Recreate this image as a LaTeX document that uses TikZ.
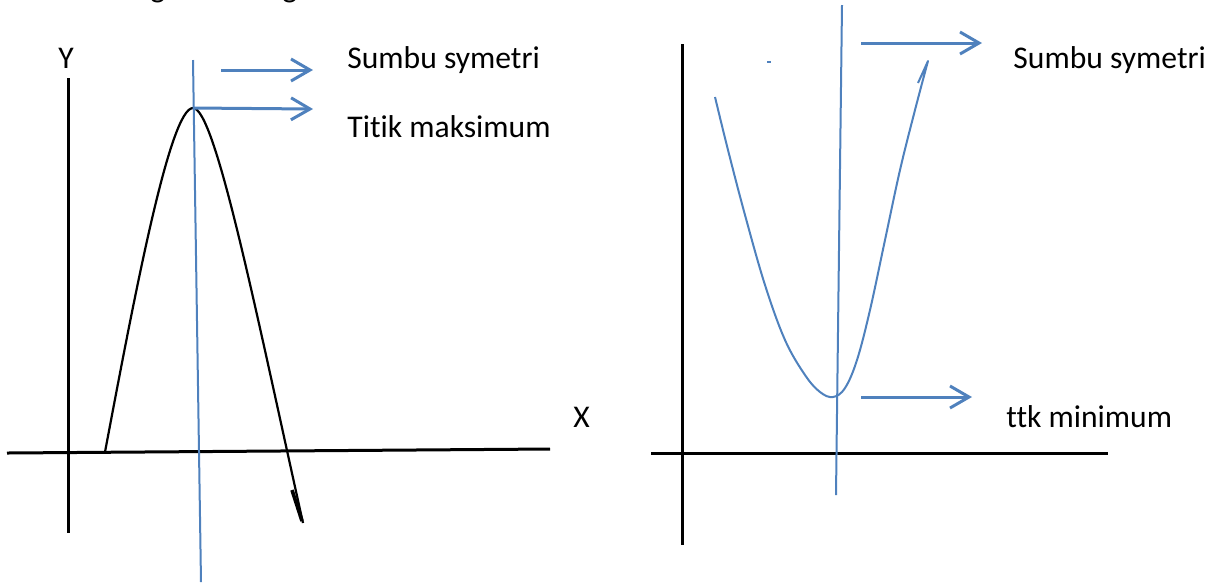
\documentclass[tikz,border=0pt]{standalone}
\usepackage{fontspec}
\setmainfont{Carlito}[Ligatures={NoCommon}]
\usetikzlibrary{arrows.meta}
\definecolor{symblue}{HTML}{4F81BD}

\begin{document}
\begin{tikzpicture}[
        x=0.5pt, y=-0.5pt,
        axis/.style={black, line width=1.5pt},
        curve/.style={line width=1.1pt, line join=round},
        symline/.style={symblue, line width=1pt},
        pointer/.style={symblue, line width=1.5pt, -{Straight Barb[length=9.5pt, width=11pt, line width=1.5pt]}},
        label/.style={anchor=base west, inner sep=0pt, font=\fontsize{15.8}{19}\selectfont}
    ]
    \useasboundingbox (0,0) rectangle (1221,586);

    % Cut-off line of text at the top
    \node[label] (topA) at (150,-3) {g};
    \node[label] (topB) at (282,-3) {g};

    % Left graph: axes
    \coordinate (yTop) at (68,78);
    \coordinate (yBot) at (68,533);
    \coordinate (xLeft) at (7,453);
    \coordinate (xRight) at (550,449);
    \draw[axis] (yTop) -- (yBot);
    \draw[axis] (xLeft) -- (xRight);
    \node[label] (ylab) at (58,68) {Y};
    \node[label] (xlab) at (573,427) {X};

    % Left graph: parabola with its maximum
    \coordinate (maxPt) at (193,108);
    \draw[curve] (105,452) .. controls (135,293) and (170,108) .. (maxPt)
        .. controls (215,108) and (255,307) .. (303,523);
    \draw[line width=1.8pt] (292,490) -- (302,521);
    \draw[symline] (193,60) coordinate (symTopL) -- (201,582) coordinate (symBotL);

    % Left graph: labels
    \node[label] (sumbuL) at (347,68) {Sumbu symetri};
    \node[label] (titikMax) at (347,137) {Titik maksimum};
    \coordinate (arrowAs) at (221,70);
    \coordinate (arrowAe) at (313,70);
    \coordinate (arrowBe) at (313,109);
    \draw[pointer] (arrowAs) -- (arrowAe);
    \draw[pointer] (maxPt) -- (arrowBe);

    % Right graph: axes
    \coordinate (yTopR) at (682,44);
    \coordinate (yBotR) at (682,545);
    \coordinate (xLeftR) at (651,453);
    \coordinate (xRightR) at (1108,453);
    \draw[axis] (yTopR) -- (yBotR);
    \draw[axis] (xLeftR) -- (xRightR);

    % Right graph: parabola with its minimum
    \coordinate (minPt) at (833,397);
    \draw[symline, line join=round] plot[smooth, tension=0.6] coordinates {(715,97) (728,150) (745,215) (765,285) (785,340) (805,375) (820,392) (833,397) (845,388) (857,360) (870,310) (885,240) (900,170) (915,110) (928,61)} -- (918,83);
    \draw[symline] (842,5) coordinate (symTopR) -- (836,495) coordinate (symBotR);
    \draw[symline] (767,62) -- (771,62);

    % Right graph: labels
    \node[label] (sumbuR) at (1013,68) {Sumbu symetri};
    \node[label] (ttkMin) at (1006,427) {ttk minimum};
    \coordinate (arrowCs) at (861,43);
    \coordinate (arrowCe) at (982,43);
    \coordinate (arrowDs) at (861,397);
    \coordinate (arrowDe) at (972,397);
    \draw[pointer] (arrowCs) -- (arrowCe);
    \draw[pointer] (arrowDs) -- (arrowDe);

\end{tikzpicture}
\end{document}
